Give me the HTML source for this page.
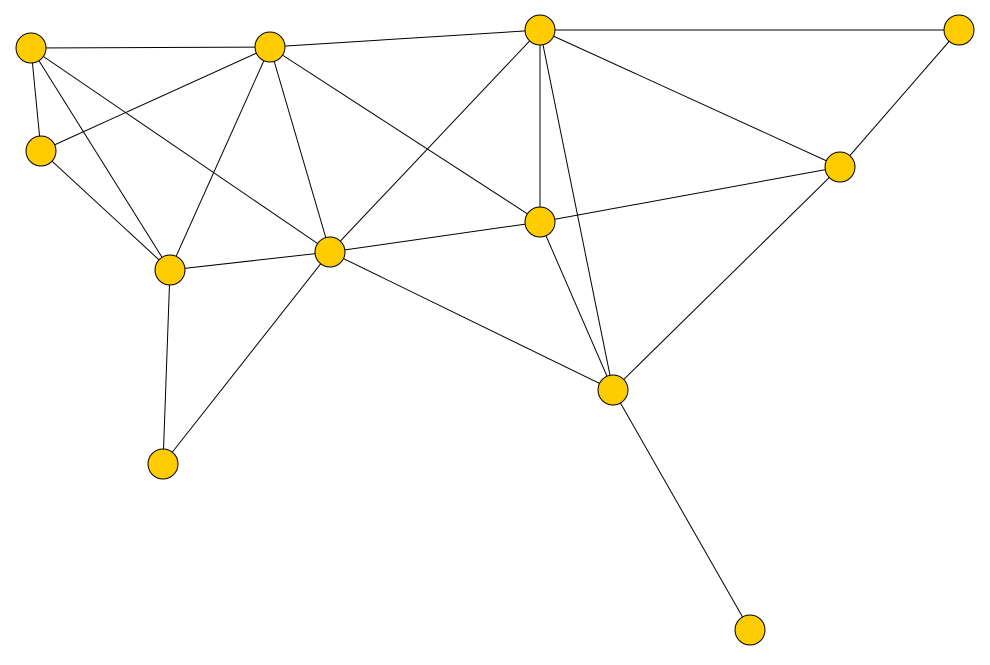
<!DOCTYPE html>
<html><head><style>body{margin:0;background:#fff}</style></head><body>
<svg width="990" height="660" xmlns="http://www.w3.org/2000/svg">
<g stroke="#000" stroke-width="1">
<line x1="31" y1="48" x2="270" y2="47"/>
<line x1="31" y1="48" x2="41" y2="151"/>
<line x1="31" y1="48" x2="170" y2="270"/>
<line x1="31" y1="48" x2="330" y2="252"/>
<line x1="270" y1="47" x2="540" y2="30"/>
<line x1="270" y1="47" x2="41" y2="151"/>
<line x1="270" y1="47" x2="170" y2="270"/>
<line x1="270" y1="47" x2="330" y2="252"/>
<line x1="270" y1="47" x2="540" y2="222"/>
<line x1="540" y1="30" x2="959" y2="30"/>
<line x1="540" y1="30" x2="330" y2="252"/>
<line x1="540" y1="30" x2="540" y2="222"/>
<line x1="540" y1="30" x2="613" y2="390"/>
<line x1="540" y1="30" x2="840" y2="167"/>
<line x1="959" y1="30" x2="840" y2="167"/>
<line x1="41" y1="151" x2="170" y2="270"/>
<line x1="170" y1="270" x2="330" y2="252"/>
<line x1="170" y1="270" x2="163" y2="464"/>
<line x1="330" y1="252" x2="540" y2="222"/>
<line x1="330" y1="252" x2="163" y2="464"/>
<line x1="330" y1="252" x2="613" y2="390"/>
<line x1="540" y1="222" x2="840" y2="167"/>
<line x1="540" y1="222" x2="613" y2="390"/>
<line x1="840" y1="167" x2="613" y2="390"/>
<line x1="613" y1="390" x2="750" y2="630"/>
</g>
<g fill="#FFCC00" stroke="#000" stroke-width="1">
<circle cx="31" cy="48" r="15"/>
<circle cx="270" cy="47" r="15"/>
<circle cx="540" cy="30" r="15"/>
<circle cx="959" cy="30" r="15"/>
<circle cx="41" cy="151" r="15"/>
<circle cx="840" cy="167" r="15"/>
<circle cx="540" cy="222" r="15"/>
<circle cx="170" cy="270" r="15"/>
<circle cx="330" cy="252" r="15"/>
<circle cx="613" cy="390" r="15"/>
<circle cx="163" cy="464" r="15"/>
<circle cx="750" cy="630" r="15"/>
</g>
</svg>
</body></html>
